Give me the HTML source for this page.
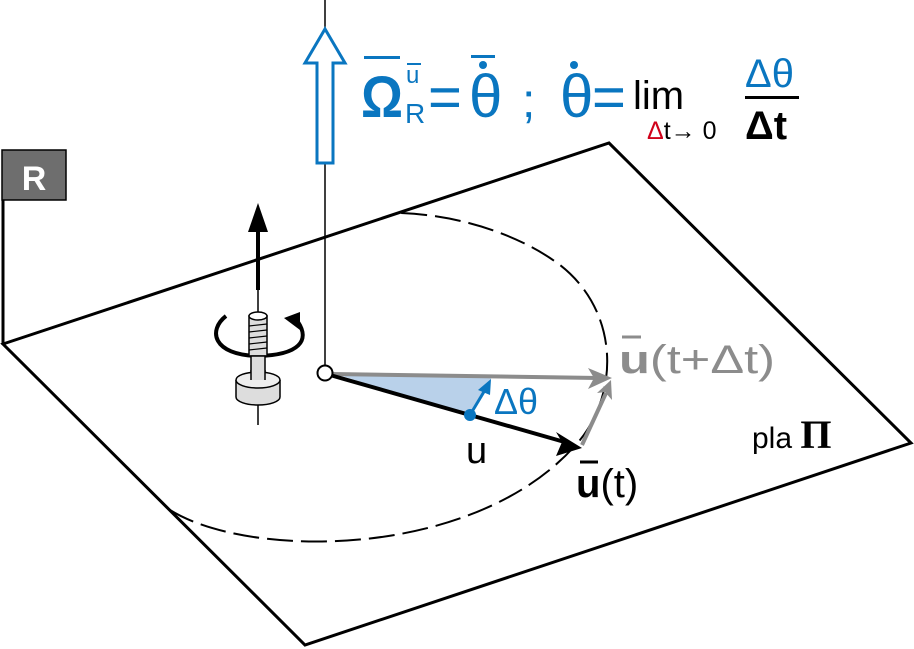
<!DOCTYPE html>
<html><head><meta charset="utf-8"><style>
html,body{margin:0;padding:0;background:#fff;}
svg{display:block;}
text{font-family:"Liberation Sans","DejaVu Sans",sans-serif;}
</style></head><body>
<svg width="914" height="649" viewBox="0 0 914 649" xmlns="http://www.w3.org/2000/svg">
<polygon points="3,344 609,143 911,443 305,645" fill="#fff" stroke="#000" stroke-width="3"/>
<line x1="3" y1="200" x2="3" y2="345" stroke="#000" stroke-width="3"/>
<rect x="2" y="150" width="64" height="50" fill="#6e6e6e" stroke="#000" stroke-width="1.5"/>
<text x="34" y="190" font-size="34" font-weight="bold" fill="#fff" text-anchor="middle">R</text>
<line x1="325" y1="0" x2="325" y2="366" stroke="#000" stroke-width="1.5"/>
<polygon points="317,163 333,163 333,63 345,63 325,29 305,63 317,63" fill="#fff" stroke="#0a76c0" stroke-width="3"/>
<path d="M170,510 C250,560 480,560 580,440 C620,390 618,310 560,265 C520,235 460,215 400,213" fill="none" stroke="#000" stroke-width="2" stroke-dasharray="26,8"/>
<polygon points="332,373 492,377 470,415" fill="#b9d1ea"/>
<line x1="332" y1="374" x2="598" y2="378" stroke="#8c8c8c" stroke-width="4"/>
<polygon points="612,378 588,368 594,378 588,389" fill="#8c8c8c"/>
<line x1="582" y1="445" x2="606" y2="393" stroke="#8c8c8c" stroke-width="4"/>
<polygon points="611,380 597,393 605,392 612,400" fill="#8c8c8c"/>
<line x1="330" y1="375" x2="568" y2="443" stroke="#000" stroke-width="4"/>
<polygon points="582,448 556,432 562,442 556,456" fill="#000"/>
<circle cx="325" cy="373" r="7.5" fill="#fff" stroke="#000" stroke-width="2"/>
<circle cx="470" cy="415" r="6" fill="#0a76c0"/>
<line x1="470" y1="415" x2="485" y2="390" stroke="#0a76c0" stroke-width="3"/>
<polygon points="491,379 478,390 490,395" fill="#0a76c0"/>
<text x="494" y="414" font-size="36" fill="#0a76c0">Δθ</text>
<text x="466" y="463" font-size="38" fill="#000">u</text>
<text x="576" y="497" font-size="40" fill="#000"><tspan font-weight="bold">u</tspan>(t)</text>
<line x1="580" y1="462" x2="598" y2="462" stroke="#000" stroke-width="3"/>
<text x="619" y="373" font-size="40" fill="#8c8c8c" textLength="156" lengthAdjust="spacingAndGlyphs"><tspan font-weight="bold">u</tspan>(t+Δt)</text>
<line x1="622" y1="337" x2="641" y2="337" stroke="#8c8c8c" stroke-width="3"/>
<text x="752" y="448" font-size="30" fill="#000">pla <tspan font-family="Liberation Serif" font-weight="bold" font-size="40">Π</tspan></text>
<g fill="#0a76c0">
<text x="361" y="117" font-size="58" font-weight="bold" textLength="42" lengthAdjust="spacingAndGlyphs">Ω</text>
<rect x="364" y="56" width="36" height="3"/>
<text x="406" y="83" font-size="24">u</text>
<rect x="407" y="63" width="14" height="2"/>
<text x="405" y="123" font-size="28">R</text>
<text x="428" y="117" font-size="58">=</text>
<text x="469" y="117" font-size="60">θ</text>
<rect x="471" y="55" width="24" height="3"/>
<circle cx="483" cy="65" r="4"/>
<text x="522" y="117" font-size="48">;</text>
<text x="560" y="117" font-size="60">θ</text>
<circle cx="574" cy="65" r="4"/>
<text x="592" y="117" font-size="58">=</text>
</g>
<text x="633" y="109" font-size="40" fill="#000">lim</text>
<text x="647" y="139" font-size="25" fill="#000"><tspan fill="#d0021b">Δ</tspan>t→ 0</text>
<text x="745" y="87" font-size="40" fill="#0a76c0">Δθ</text>
<rect x="745" y="96" width="54" height="3" fill="#000"/>
<text x="745" y="139" font-size="40" fill="#000" font-weight="bold">Δt</text>
<line x1="258" y1="290" x2="258" y2="228" stroke="#000" stroke-width="4"/>
<polygon points="258,203 248,232 268,232" fill="#000"/>
<line x1="258" y1="290" x2="258" y2="316" stroke="#000" stroke-width="1.5"/>
<path d="M226,316 C208,330 212,355 258,356 C300,355 310,340 298,322" fill="none" stroke="#000" stroke-width="4"/>
<polygon points="300,312 284,318 300,330" fill="#000"/>
<rect x="249" y="316" width="18" height="40" fill="#ddd" stroke="#000" stroke-width="1.5"/>
<ellipse cx="258" cy="316" rx="9" ry="4" fill="#fff" stroke="#000" stroke-width="1.5"/>
<g stroke="#000" stroke-width="1.2"><line x1="249" y1="326" x2="267" y2="324"/><line x1="249" y1="332" x2="267" y2="330"/><line x1="249" y1="338" x2="267" y2="336"/><line x1="249" y1="344" x2="267" y2="342"/><line x1="249" y1="350" x2="267" y2="348"/></g>
<rect x="251" y="356" width="14" height="20" fill="#ddd" stroke="#000" stroke-width="1.5"/>
<path d="M236,380 L236,397 A22,8 0 0 0 280,397 L280,380" fill="#ddd" stroke="#000" stroke-width="1.5"/>
<ellipse cx="258" cy="380" rx="22" ry="8" fill="#eee" stroke="#000" stroke-width="1.5"/>
<rect x="251" y="370" width="14" height="10" fill="#ddd"/>
<line x1="251" y1="370" x2="251" y2="380" stroke="#000" stroke-width="1.5"/>
<line x1="265" y1="370" x2="265" y2="380" stroke="#000" stroke-width="1.5"/>
<line x1="258" y1="405" x2="258" y2="425" stroke="#000" stroke-width="1.5"/>
</svg>
</body></html>
